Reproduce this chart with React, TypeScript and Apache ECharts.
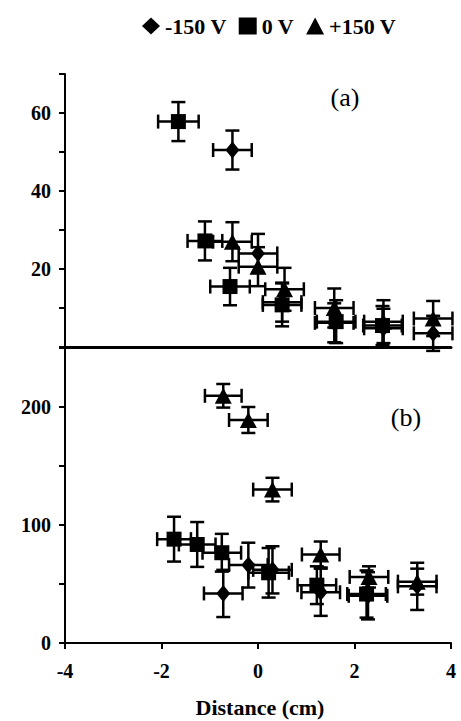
import React, { useEffect, useRef } from "react";
import * as echarts from "echarts";

// ---- Panel (a) data ----
const aDiamondX = [-0.53, 0.0, 0.5, 1.58, 2.6, 3.63];
const aDiamondY = [50.5, 24, 11.5, 6.2, 4.8, 3.5];
const aDiamondXErr = [0.4, 0.4, 0.4, 0.4, 0.4, 0.4];
const aDiamondYErr = [5, 5, 5, 5, 5, 4.5];

const aSquareX = [-1.65, -1.1, -0.58, 0.5, 1.62, 2.58];
const aSquareY = [57.8, 27.2, 15.5, 10.8, 6.5, 5.5];
const aSquareXErr = [0.42, 0.36, 0.41, 0.4, 0.4, 0.4];
const aSquareYErr = [5, 5, 4.8, 5.5, 5.5, 5];

const aTriangleX = [-0.53, 0.0, 0.55, 1.58, 2.6, 3.63];
const aTriangleY = [27, 20.6, 14.8, 10, 6.5, 7.3];
const aTriangleXErr = [0.4, 0.4, 0.4, 0.4, 0.4, 0.4];
const aTriangleYErr = [5, 5, 5.5, 5, 5.5, 4.5];

// ---- Panel (b) data ----
const bDiamondX = [-0.72, -0.2, 0.3, 1.3, 2.28, 3.3];
const bDiamondY = [42, 66, 62, 43, 40, 48];
const bDiamondXErr = [0.4, 0.4, 0.4, 0.4, 0.4, 0.4];
const bDiamondYErr = [20, 19, 20, 20, 20, 20];

const bSquareX = [-1.74, -1.26, -0.75, 0.22, 1.22, 2.25];
const bSquareY = [88, 83.5, 76.5, 59.5, 49, 41.5];
const bSquareXErr = [0.35, 0.38, 0.4, 0.42, 0.4, 0.4];
const bSquareYErr = [19, 19, 16, 21, 16, 20];

const bTriangleX = [-0.72, -0.2, 0.3, 1.3, 2.3, 3.3];
const bTriangleY = [209.5, 189, 130, 75, 56, 52];
const bTriangleXErr = [0.38, 0.4, 0.4, 0.39, 0.4, 0.4];
const bTriangleYErr = [10, 11, 10, 11, 9, 11];

const legendNames = ["-150 V", "0 V", "+150 V"];
const xTicks = { min: -4, max: 4, interval: 2 };
const aYTicks = { min: 0, max: 70, interval: 10, labels: [20, 40, 60] };
const bYTicks = { min: 0, max: 250, interval: 50, labels: [0, 100, 200] };

const FONT = "'Liberation Serif', 'Times New Roman', serif";

function rows(x: number[], y: number[], xe: number[], ye: number[]) {
  return x.map((v, i) => [v, y[i], xe[i], ye[i]]);
}

function errSeries(data: number[][], gi: number) {
  return {
    type: "custom",
    name: "err" + gi,
    xAxisIndex: gi,
    yAxisIndex: gi,
    silent: true,
    z: 2,
    encode: { x: 0, y: 1 },
    data,
    renderItem: (params: any, api: any) => {
      const x = api.value(0);
      const y = api.value(1);
      const xe = api.value(2);
      const ye = api.value(3);
      const l = api.coord([x - xe, y]);
      const r = api.coord([x + xe, y]);
      const t = api.coord([x, y + ye]);
      const b = api.coord([x, y - ye]);
      const cap = 7;
      const style = { stroke: "#000", lineWidth: 2.5, fill: null };
      const ln = (x1: number, y1: number, x2: number, y2: number) => ({
        type: "line",
        shape: { x1, y1, x2, y2 },
        style,
      });
      return {
        type: "group",
        children: [
          ln(l[0], l[1], r[0], r[1]),
          ln(t[0], t[1], b[0], b[1]),
          ln(l[0], l[1] - cap, l[0], l[1] + cap),
          ln(r[0], r[1] - cap, r[0], r[1] + cap),
          ln(t[0] - cap, t[1], t[0] + cap, t[1]),
          ln(b[0] - cap, b[1], b[0] + cap, b[1]),
        ],
      };
    },
  };
}

function markSeries(name: string, symbol: string, size: any, x: number[], y: number[], gi: number) {
  return {
    type: "scatter",
    name,
    xAxisIndex: gi,
    yAxisIndex: gi,
    symbol,
    symbolSize: size,
    z: 3,
    itemStyle: { color: "#000", opacity: 1 },
    data: x.map((v, i) => [v, y[i]]),
  };
}

export default function App() {
  const ref = useRef<HTMLDivElement>(null);
  useEffect(() => {
    document.body.style.margin = "0";
    const chart = echarts.init(ref.current as HTMLDivElement, null, { renderer: "svg" });
    const axisLabelStyle = { fontFamily: FONT, fontWeight: "bold", fontSize: 20, color: "#000" };
    const xAxisBase = {
      type: "value",
      min: xTicks.min,
      max: xTicks.max,
      interval: xTicks.interval,
      splitLine: { show: false },
    };
    const option: any = {
      animation: false,
      backgroundColor: "#fff",
      legend: {
        left: 137,
        top: 10,
        itemWidth: 18,
        itemHeight: 17,
        itemGap: 12,
        selectedMode: false,
        textStyle: { fontFamily: FONT, fontWeight: "bold", fontSize: 22, color: "#000" },
        data: [
          { name: legendNames[0], icon: "diamond" },
          { name: legendNames[1], icon: "rect" },
          { name: legendNames[2], icon: "triangle" },
        ],
      },
      grid: [
        { left: 65, width: 386, top: 74, height: 273 },
        { left: 65, width: 386, top: 348, height: 295 },
      ],
      xAxis: [
        {
          ...xAxisBase,
          gridIndex: 0,
          axisLine: { show: true, onZero: false, lineStyle: { color: "#000", width: 3 } },
          axisTick: { show: false },
          axisLabel: { show: false },
        },
        {
          ...xAxisBase,
          gridIndex: 1,
          axisLine: { show: true, onZero: false, lineStyle: { color: "#000", width: 2 } },
          axisTick: { show: true, inside: false, length: 6, lineStyle: { color: "#000", width: 2 } },
          axisLabel: { ...axisLabelStyle, margin: 18 },
        },
      ],
      yAxis: [
        {
          type: "value",
          gridIndex: 0,
          min: aYTicks.min,
          max: aYTicks.max,
          interval: aYTicks.interval,
          splitLine: { show: false },
          axisLine: { show: true, onZero: false, lineStyle: { color: "#000", width: 2 } },
          axisTick: { show: true, inside: false, length: 6, lineStyle: { color: "#000", width: 2 } },
          axisLabel: {
            ...axisLabelStyle,
            margin: 14,
            formatter: (v: number) => (aYTicks.labels.includes(v) ? String(v) : ""),
          },
        },
        {
          type: "value",
          gridIndex: 1,
          min: bYTicks.min,
          max: bYTicks.max,
          interval: bYTicks.interval,
          splitLine: { show: false },
          axisLine: { show: true, onZero: false, lineStyle: { color: "#000", width: 2 } },
          axisTick: { show: true, inside: false, length: 6, lineStyle: { color: "#000", width: 2 } },
          axisLabel: {
            ...axisLabelStyle,
            margin: 14,
            formatter: (v: number) => (bYTicks.labels.includes(v) ? String(v) : ""),
          },
        },
      ],
      graphic: [
        {
          type: "text",
          x: 345,
          y: 97,
          style: { text: "(a)", font: `26px ${FONT}`, fill: "#000", textAlign: "center", textVerticalAlign: "middle" },
        },
        {
          type: "text",
          x: 406,
          y: 417,
          style: { text: "(b)", font: `26px ${FONT}`, fill: "#000", textAlign: "center", textVerticalAlign: "middle" },
        },
        {
          type: "text",
          x: 260,
          y: 707,
          style: {
            text: "Distance (cm)",
            font: `bold 22px ${FONT}`,
            fill: "#000",
            textAlign: "center",
            textVerticalAlign: "middle",
          },
        },
      ],
      series: [
        errSeries(rows(aDiamondX, aDiamondY, aDiamondXErr, aDiamondYErr), 0),
        errSeries(rows(aSquareX, aSquareY, aSquareXErr, aSquareYErr), 0),
        errSeries(rows(aTriangleX, aTriangleY, aTriangleXErr, aTriangleYErr), 0),
        errSeries(rows(bDiamondX, bDiamondY, bDiamondXErr, bDiamondYErr), 1),
        errSeries(rows(bSquareX, bSquareY, bSquareXErr, bSquareYErr), 1),
        errSeries(rows(bTriangleX, bTriangleY, bTriangleXErr, bTriangleYErr), 1),
        markSeries(legendNames[0], "diamond", [14, 17], aDiamondX, aDiamondY, 0),
        markSeries(legendNames[1], "rect", [15, 15], aSquareX, aSquareY, 0),
        markSeries(legendNames[2], "triangle", [17, 16], aTriangleX, aTriangleY, 0),
        markSeries(legendNames[0], "diamond", [14, 17], bDiamondX, bDiamondY, 1),
        markSeries(legendNames[1], "rect", [15, 15], bSquareX, bSquareY, 1),
        markSeries(legendNames[2], "triangle", [17, 16], bTriangleX, bTriangleY, 1),
      ],
    };
    chart.setOption(option);
    return () => chart.dispose();
  }, []);
  return <div ref={ref} style={{ width: 461, height: 721 }} />;
}
